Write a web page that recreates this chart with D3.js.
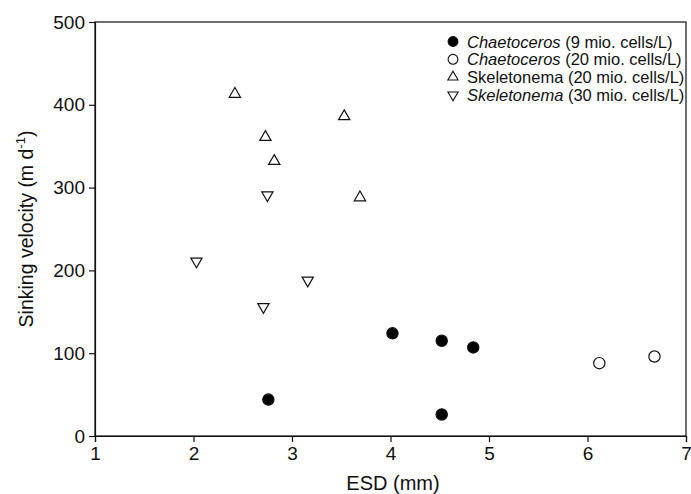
<html>
<head>
  <script src="https://d3js.org/d3.v7.min.js"></script>
  <style>
    body { margin: 0; background: #fff; }
    text { font-family: "Liberation Sans", Arial, sans-serif; fill: #111; }
    .axis path, .axis line { stroke: #111; stroke-width: 1.2px; }
  </style>
</head>
<body>
  <svg id="chart" width="691" height="494"></svg>
  <script>
    // series: ESD (mm) and sinking velocity (m/d)
    const chaeto9X = [2.76, 4.02, 4.52, 4.84, 4.52];
    const chaeto9Y = [44, 124, 115, 107, 26];
    const chaeto20X = [6.12, 6.68];
    const chaeto20Y = [88, 96];
    const skel20X = [2.42, 2.73, 2.82, 3.53, 3.69];
    const skel20Y = [413, 361, 332, 386, 288];
    const skel30X = [2.75, 2.03, 3.16, 2.71];
    const skel30Y = [291, 211, 188, 156];

    const xTicks = [1, 2, 3, 4, 5, 6, 7];
    const yTicks = [0, 100, 200, 300, 400, 500];

    const svg = d3.select("#chart");
    const margin = {top: 22, right: 5, bottom: 58, left: 95};
    const width = +svg.attr("width") - margin.left - margin.right;
    const height = +svg.attr("height") - margin.top - margin.bottom;

    const x = d3.scaleLinear().domain([1, 7]).range([0, width]);
    const y = d3.scaleLinear().domain([0, 500]).range([height, 0]);

    const g = svg.append("g").attr("transform", `translate(${margin.left},${margin.top})`);

    // frame
    g.append("rect").attr("width", width).attr("height", height)
      .attr("fill", "none").attr("stroke", "#111").attr("stroke-width", 1.2);

    g.append("g").attr("class", "axis")
      .attr("transform", `translate(0,${height})`)
      .call(d3.axisBottom(x).tickValues(xTicks).tickFormat(d3.format("d")).tickSize(6).tickPadding(5))
      .selectAll("text").style("font-size", "19px");
    g.append("g").attr("class", "axis")
      .call(d3.axisLeft(y).tickValues(yTicks).tickFormat(d3.format("d")).tickSize(6).tickPadding(4))
      .selectAll("text").style("font-size", "19px");

    svg.append("text").attr("x", 393).attr("y", 490)
      .attr("text-anchor", "middle").style("font-size", "20px").text("ESD (mm)");

    const yl = svg.append("text").attr("text-anchor", "middle")
      .attr("transform", `translate(33,${margin.top + height / 2}) rotate(-90)`)
      .style("font-size", "19.5px");
    yl.append("tspan").text("Sinking velocity (m d");
    yl.append("tspan").attr("dy", -8).style("font-size", "13px").text("-1");
    yl.append("tspan").attr("dy", 8).text(")");

    const circle = d3.symbol().type(d3.symbolCircle).size(100);
    const tri = d3.symbol().type(d3.symbolTriangle).size(55);

    function drawSeries(xs, ys, sym, fill, rot) {
      g.append("g").selectAll("path").data(xs.map((v, i) => [v, ys[i]]))
        .join("path")
        .attr("d", sym)
        .attr("transform", d => `translate(${x(d[0])},${y(d[1])}) rotate(${rot})`)
        .attr("fill", fill).attr("stroke", "#111").attr("stroke-width", 1.2);
    }
    drawSeries(chaeto9X, chaeto9Y, circle, "#000", 0);
    drawSeries(chaeto20X, chaeto20Y, circle, "#fff", 0);
    drawSeries(skel20X, skel20Y, tri, "#fff", 0);
    drawSeries(skel30X, skel30Y, tri, "#fff", 180);

    // legend
    const legCircle = d3.symbol().type(d3.symbolCircle).size(75);
    const legTri = d3.symbol().type(d3.symbolTriangle).size(45);
    const legend = [
      {ital: "Chaetoceros", rest: " (9 mio. cells/L)", sym: legCircle, fill: "#000", rot: 0},
      {ital: "Chaetoceros", rest: " (20 mio. cells/L)", sym: legCircle, fill: "#fff", rot: 0},
      {ital: "", rest: "Skeletonema (20 mio. cells/L)", sym: legTri, fill: "#fff", rot: 0},
      {ital: "Skeletonema", rest: " (30 mio. cells/L)", sym: legTri, fill: "#fff", rot: 180}
    ];
    const lg = svg.append("g");
    legend.forEach((d, i) => {
      const yy = 41.5 + i * 17.8;
      lg.append("path").attr("d", d.sym)
        .attr("transform", `translate(453,${yy}) rotate(${d.rot})`)
        .attr("fill", d.fill).attr("stroke", "#111").attr("stroke-width", 1.1);
      const t = lg.append("text").attr("x", 467).attr("y", yy + 6).style("font-size", "16.5px");
      if (d.ital) t.append("tspan").style("font-style", "italic").text(d.ital);
      t.append("tspan").text(d.rest);
    });
  </script>
</body>
</html>
